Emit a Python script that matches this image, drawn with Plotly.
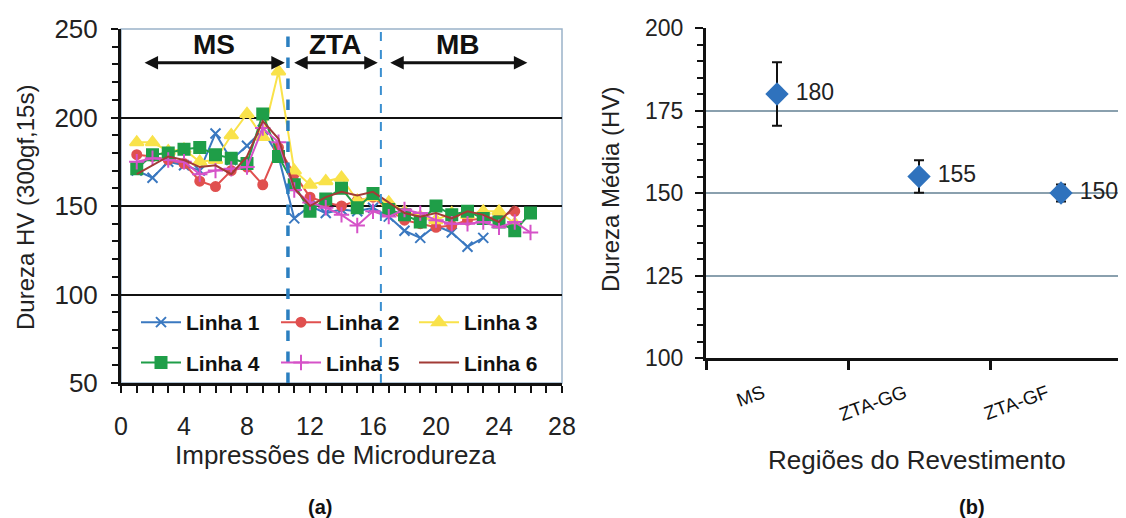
import plotly.graph_objects as go

# ---------------- data ----------------
x_imp = list(range(1, 27))
linha1 = [170, 166, 175, 173, 170, 191, 176, 184, 193, 178, 143, 150, 146, 148, 147, 149, 144, 136, 132, 139, 135, 127, 132]
linha2 = [179, 178, 176, 174, 164, 161, 170, 172, 162, 183, 168, 155, 152, 150, 153, 155, 148, 142, 140, 138, 139, 142, 143, 144, 147]
linha3 = [186, 186, 181, 182, 175, 176, 190, 202, 189, 226, 170, 162, 164, 166, 153, 155, 152, 147, 144, 142, 146, 145, 147, 147, 140]
linha4 = [171, 179, 180, 182, 183, 179, 177, 174, 202, 178, 162, 147, 154, 160, 149, 157, 148, 145, 141, 150, 145, 147, 143, 141, 136, 146]
linha5 = [175, 177, 176, 175, 168, 170, 171, 172, 194, 186, 159, 152, 149, 145, 139, 147, 144, 148, 146, 142, 140, 140, 141, 138, 141, 135]
linha6 = [168, 173, 178, 176, 172, 173, 168, 178, 198, 188, 160, 150, 155, 158, 156, 158, 152, 146, 144, 146, 143, 147, 145, 141, 150]

serie_nomes = ["Linha 1", "Linha 2", "Linha 3", "Linha 4", "Linha 5", "Linha 6"]
regioes_lim = [10.6, 16.5]
regioes_txt = ["MS", "ZTA", "MB"]
regioes_seta = [(1.4, 10.4), (10.9, 16.3), (17.0, 25.8)]

regioes_b = ["MS", "ZTA-GG", "ZTA-GF"]
media_b = [180, 155, 150]
erro_b = [9.6, 4.9, 2.6]

# ---------------- helpers (page pixel -> paper, page has an 8px body margin) ----------------
W, H, OFF = 1126, 518, 8


def px(x):
    return (x - OFF) / W


def py(y):
    return 1 - (y - OFF) / H


fig = go.Figure()
FONT = "Liberation Sans, Arial, sans-serif"

styles = [
    dict(color="#3a78c0", symbol="x-thin", size=10),
    dict(color="#e0504f", symbol="circle", size=9),
    dict(color="#f9e24a", symbol="triangle-up", size=12),
    dict(color="#1f9e48", symbol="square", size=11),
    dict(color="#d552c8", symbol="cross-thin", size=11),
    dict(color="#a23b36", symbol=None, size=0),
]
legend_of = ["legend", "legend2", "legend3", "legend", "legend2", "legend3"]
series = [linha1, linha2, linha3, linha4, linha5, linha6]
for i, (name, ys, st) in enumerate(zip(serie_nomes, series, styles)):
    xs = x_imp[:len(ys)]
    common = dict(x=xs, y=ys, name=name, legend=legend_of[i], legendgroup="g%d" % i,
                  line=dict(color=st["color"], width=2), xaxis="x", yaxis="y")
    if st["symbol"] is None:
        fig.add_trace(go.Scatter(mode="lines", **common))
    else:
        fig.add_trace(go.Scatter(mode="lines+markers",
                                 marker=dict(symbol=st["symbol"], size=st["size"], color=st["color"],
                                             line=dict(color=st["color"], width=2)),
                                 **common))

# right chart
fig.add_trace(go.Scatter(x=[0, 1, 2], y=media_b, mode="markers+text",
                         text=[" " + str(v) for v in media_b], textposition="middle right",
                         textfont=dict(family=FONT, size=23, color="#222"),
                         marker=dict(symbol="diamond", size=18, color="#2f72bd"),
                         error_y=dict(type="data", array=erro_b, color="#111", thickness=2, width=5),
                         cliponaxis=False, showlegend=False, xaxis="x2", yaxis="y2"))

# ---------- shapes ----------
shapes = []
shapes.append(dict(type="rect", xref="x domain", yref="y domain", x0=0, x1=1, y0=0, y1=1,
                   line=dict(color="#9bb3c9", width=1.5), layer="below"))
shapes.append(dict(type="line", xref="x", yref="y", x0=regioes_lim[0], x1=regioes_lim[0], y0=50, y1=250,
                   line=dict(color="#2b7fc0", width=3.5, dash="dash")))
shapes.append(dict(type="line", xref="x", yref="y", x0=regioes_lim[1], x1=regioes_lim[1], y0=50, y1=250,
                   line=dict(color="#3a8fd0", width=2, dash="dash")))

annotations = []
for (a, b), t in zip(regioes_seta, regioes_txt):
    annotations.append(dict(xref="x", yref="y", axref="x", ayref="y", x=b, y=231, ax=a, ay=231,
                            text="", showarrow=True, arrowhead=2, arrowside="end+start",
                            arrowwidth=3, arrowsize=0.9, arrowcolor="#111"))
    annotations.append(dict(xref="x", yref="y", x=(a + b) / 2, y=241, text="<b>%s</b>" % t,
                            showarrow=False, font=dict(family=FONT, size=28, color="#111")))

ann_common = dict(xref="paper", yref="paper", showarrow=False, xanchor="center", yanchor="middle")
annotations += [
    dict(x=px(25), y=py(208), text="Dureza HV (300gf,15s)", textangle=-90,
         font=dict(family=FONT, size=24, color="#222"), **ann_common),
    dict(x=px(335), y=py(455), text="Impressões de Microdureza",
         font=dict(family=FONT, size=26, color="#222"), **ann_common),
    dict(x=px(320), y=py(507), text="<b>(a)</b>",
         font=dict(family=FONT, size=20, color="#111"), **ann_common),
    dict(x=px(611), y=py(190), text="Dureza Média (HV)", textangle=-90,
         font=dict(family=FONT, size=24, color="#222"), **ann_common),
    dict(x=px(917), y=py(460), text="Regiões do Revestimento",
         font=dict(family=FONT, size=26, color="#222"), **ann_common),
    dict(x=px(972), y=py(507), text="<b>(b)</b>",
         font=dict(family=FONT, size=20, color="#111"), **ann_common),
]

leg_common = dict(orientation="v", xanchor="left", yanchor="top", bgcolor="rgba(255,255,255,0)",
                  font=dict(family=FONT, size=21, color="#111", weight="bold"),
                  tracegroupgap=10, itemwidth=40)
leg_y = py(302)

fig.update_layout(
    width=W, height=H,
    margin=dict(l=0, r=0, t=0, b=0, autoexpand=False),
    paper_bgcolor="white", plot_bgcolor="white",
    font=dict(family=FONT, color="#222"),
    shapes=shapes, annotations=annotations,
    legend=dict(x=px(136), y=leg_y, **leg_common),
    legend2=dict(x=px(276), y=leg_y, **leg_common),
    legend3=dict(x=px(414), y=leg_y, **leg_common),
    xaxis=dict(domain=[px(121), px(562)], range=[0, 28], dtick=4, tick0=0, automargin=False,
               showgrid=False, zeroline=False, showline=True, linecolor="#111", linewidth=3,
               ticks="outside", ticklen=7, tickwidth=2, tickcolor="#111", ticklabelstandoff=12,
               minor=dict(dtick=1, ticks="outside", ticklen=7, tickwidth=2, tickcolor="#111"),
               tickfont=dict(family=FONT, size=25, color="#222"), anchor="y"),
    yaxis=dict(domain=[py(383), py(29)], range=[50, 250], dtick=50, automargin=False,
               showgrid=True, gridcolor="#111", gridwidth=2, zeroline=False,
               showline=True, linecolor="#111", linewidth=3,
               ticks="outside", ticklen=7, tickwidth=2, tickcolor="#111", ticklabelstandoff=8,
               minor=dict(dtick=10, ticks="outside", ticklen=6, tickwidth=2, tickcolor="#111"),
               tickfont=dict(family=FONT, size=26, color="#222"), anchor="x"),
    xaxis2=dict(domain=[px(706), 1.0], range=[-0.5, 2.514], automargin=False,
                tickvals=[0, 1, 2], ticktext=regioes_b, tickangle=-20, ticks="",
                ticklabelstandoff=14, ticklabelshift=-14,
                showgrid=False, zeroline=False, showline=True, linecolor="#111", linewidth=3,
                minor=dict(tick0=0.5, dtick=1, ticks="outside", ticklen=9, tickwidth=3, tickcolor="#111"),
                tickfont=dict(family=FONT, size=19, color="#111"), anchor="y2"),
    yaxis2=dict(domain=[py(358), py(28)], range=[100, 200], dtick=25, automargin=False,
                showgrid=True, gridcolor="#8aa0ae", gridwidth=1.5, zeroline=False,
                showline=True, linecolor="#111", linewidth=3,
                ticks="outside", ticklen=8, tickwidth=2, tickcolor="#111", ticklabelstandoff=7,
                minor=dict(dtick=5, ticks="outside", ticklen=6, tickwidth=2, tickcolor="#111"),
                tickfont=dict(family=FONT, size=23, color="#222"), anchor="x2"),
)

fig.write_html("out.html")
